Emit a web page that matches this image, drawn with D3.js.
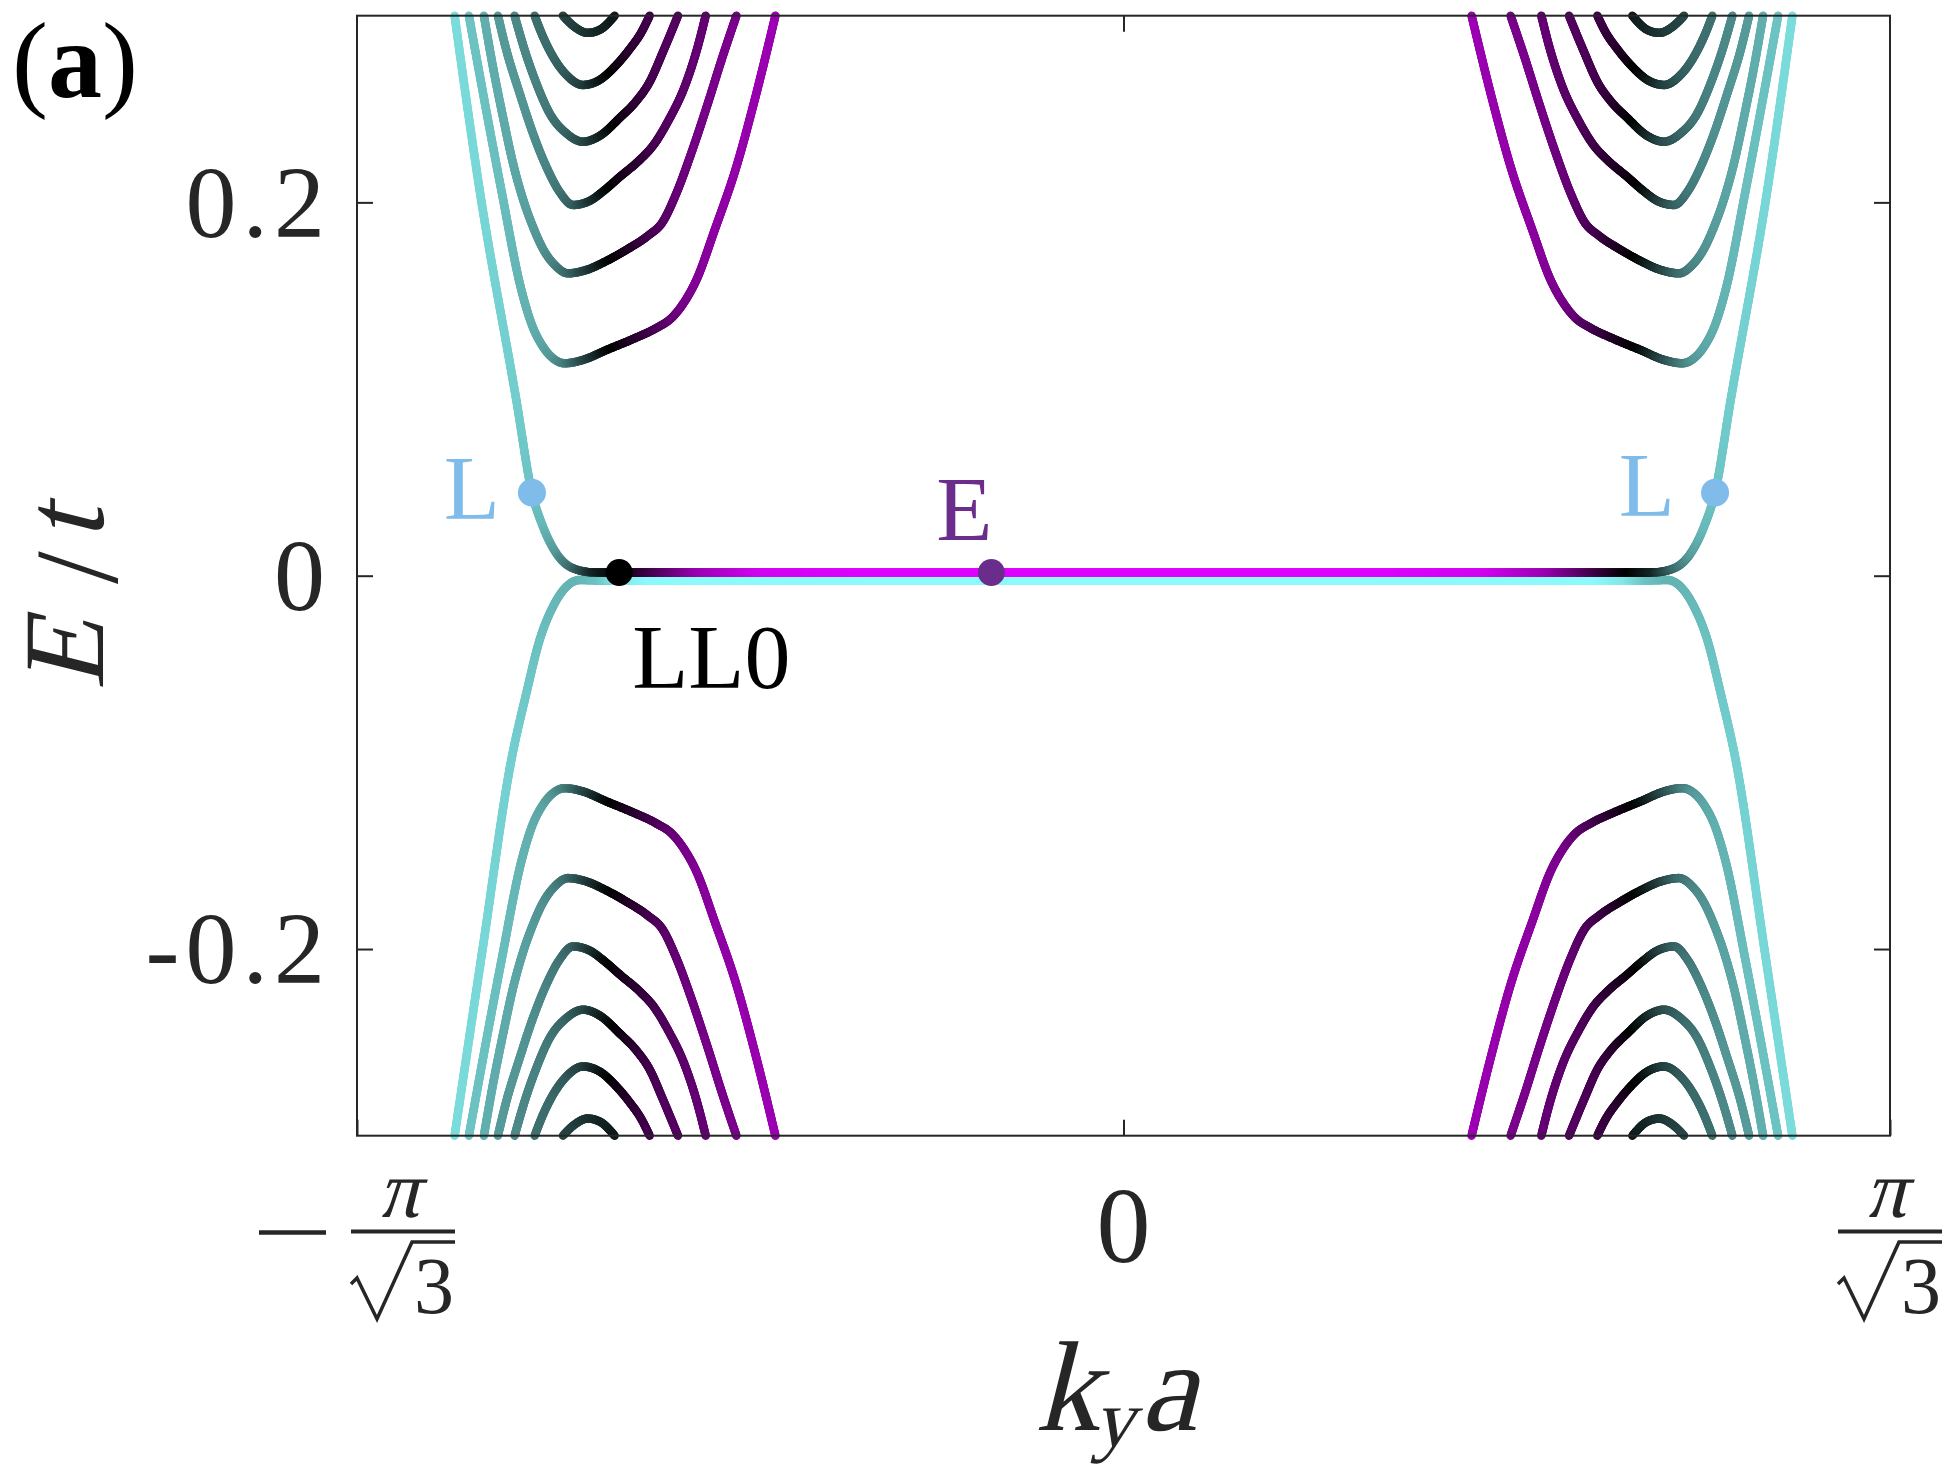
<!DOCTYPE html>
<html>
<head>
<meta charset="utf-8">
<script src="https://cdn.jsdelivr.net/npm/d3@7"></script>
<style>
  body { margin: 0; background: #fff; }
  svg { display: block; font-family: 'Liberation Serif', 'DejaVu Serif', serif; }
</style>
</head>
<body>
<svg id="chart" width="1946" height="1466"></svg>
<script>
// 刻度
var kEdge = Math.PI / Math.sqrt(3)
var xTicks = [-kEdge, 0, kEdge]
var xTickLabels = ['−π/√3', '0', 'π/√3']
var yTicks = [-0.2, 0, 0.2]
var yTickLabels = ['-0.2', '0', '0.2']

// 每个点: [k_y a, E/t, 颜色权重]  权重 -1 青 … 0 黑 … +1 品红
// 零能模 E>0 分支（左谷，右谷为镜像）
var zeroUpper = [
  [-1.5828, 0.3000, -0.88], [-1.5236, 0.2066, -0.86], [-1.4368, 0.0941, -0.82],
  [-1.3998, 0.0445, -0.78], [-1.3738, 0.0263, -0.74], [-1.3421, 0.0120, -0.62],
  [-1.3028, 0.0040, -0.42], [-1.2555, 0.0018, -0.15], [-1.1934, 0.0017, 0],
  [-1.1000, 0.0017, 0.35], [-1.0000, 0.0017, 0.7], [-0.8500, 0.0017, 0.95],
  [-0.6000, 0.0017, 1]
]
// 零能模 E<0 分支
var zeroLower = [
  [-1.5828, -0.3000, -0.88], [-1.5158, -0.1988, -0.86], [-1.4486, -0.0987, -0.83],
  [-1.4131, -0.0630, -0.8], [-1.3816, -0.0344, -0.77], [-1.3501, -0.0166, -0.74],
  [-1.3184, -0.0059, -0.72], [-1.2869, -0.0023, -0.72], [-1.2396, -0.0026, -0.78],
  [-1.1923, -0.0027, -0.92], [-1.1200, -0.0027, -1], [-0.6000, -0.0027, -1]
]

// 体能带 n=1..6，E>0，左谷
var band1 = [
  [-1.5490, 0.3000, -0.78], [-1.4723, 0.2066, -0.76], [-1.4249, 0.1531, -0.72],
  [-1.4013, 0.1352, -0.7], [-1.3738, 0.1227, -0.66], [-1.3501, 0.1165, -0.6],
  [-1.3224, 0.1138, -0.5], [-1.2791, 0.1156, -0.3], [-1.2237, 0.1209, -0.05],
  [-1.1608, 0.1268, 0.15], [-1.1054, 0.1327, 0.33], [-1.0692, 0.1381, 0.45],
  [-1.0408, 0.1461, 0.53], [-1.0107, 0.1584, 0.58], [-0.9674, 0.1852, 0.63],
  [-0.9160, 0.2191, 0.66], [-0.8727, 0.2549, 0.68], [-0.8237, 0.3000, 0.7]
]
var band2 = [
  [-1.5135, 0.3000, -0.7], [-1.4922, 0.2727, -0.69], [-1.4685, 0.2459, -0.68],
  [-1.4448, 0.2211, -0.67], [-1.4219, 0.2024, -0.65], [-1.3982, 0.1874, -0.62],
  [-1.3722, 0.1745, -0.58], [-1.3461, 0.1665, -0.52], [-1.3146, 0.1620, -0.42],
  [-1.2711, 0.1638, -0.25], [-1.2237, 0.1686, -0.05], [-1.1733, 0.1750, 0.12],
  [-1.1260, 0.1820, 0.28], [-1.0905, 0.1895, 0.38], [-1.0580, 0.2049, 0.45],
  [-1.0218, 0.2270, 0.5], [-0.9840, 0.2527, 0.53], [-0.9496, 0.2774, 0.55],
  [-0.9160, 0.3000, 0.55]
]
var band3 = [
  [-1.4803, 0.3000, -0.62], [-1.4604, 0.2816, -0.61], [-1.4290, 0.2585, -0.6],
  [-1.3975, 0.2370, -0.57], [-1.3658, 0.2191, -0.53], [-1.3343, 0.2056, -0.47],
  [-1.3028, 0.1986, -0.38], [-1.2633, 0.2008, -0.22], [-1.2278, 0.2066, -0.05],
  [-1.1923, 0.2136, 0.08], [-1.1449, 0.2227, 0.2], [-1.1118, 0.2308, 0.3],
  [-1.0786, 0.2431, 0.37], [-1.0361, 0.2634, 0.42], [-1.0076, 0.2833, 0.44],
  [-0.9887, 0.3000, 0.45]
]
var band4 = [
  [-1.4408, 0.3000, -0.55], [-1.4171, 0.2816, -0.54], [-1.3894, 0.2638, -0.52],
  [-1.3579, 0.2477, -0.48], [-1.3184, 0.2370, -0.4], [-1.2791, 0.2325, -0.3],
  [-1.2396, 0.2356, -0.15], [-1.1923, 0.2452, 0.05], [-1.1527, 0.2543, 0.2],
  [-1.1213, 0.2645, 0.3], [-1.0898, 0.2806, 0.35], [-1.0543, 0.3000, 0.38]
]
var band5 = [
  [-1.3934, 0.3000, -0.45], [-1.3738, 0.2888, -0.44], [-1.3501, 0.2781, -0.42],
  [-1.3184, 0.2683, -0.36], [-1.2791, 0.2629, -0.25], [-1.2396, 0.2656, -0.1],
  [-1.2001, 0.2736, 0.05], [-1.1686, 0.2821, 0.18], [-1.1409, 0.2911, 0.25],
  [-1.1213, 0.3000, 0.3]
]
var band6 = [
  [-1.3265, 0.3000, -0.28], [-1.2988, 0.2940, -0.25], [-1.2680, 0.2908, -0.2],
  [-1.2396, 0.2924, -0.15], [-1.2041, 0.3000, -0.1]
]
var bandsUpperLeft = [band1, band2, band3, band4, band5, band6]

// 标记点
var markerNames = ['L', 'LL0', 'E', 'L']
var markerK = [-1.3998, -1.1934, -0.3127, 1.3998]
var markerE = [0.0445, 0.0017, 0.0017, 0.0445]
var markerColors = ['#80bcea', '#000000', '#6b2d8c', '#80bcea']

var svg = d3.select('#chart')
var x = d3.scaleLinear().domain([-kEdge, kEdge]).range([357, 1890])
var y = d3.scaleLinear().domain([-0.3, 0.3]).range([1135.7, 15.7])
var axisColor = '#262626'
var slant = 'skewX(-14)'

var cyanEnd = d3.rgb(140, 250, 250)
var magentaEnd = d3.rgb(222, 0, 255)
function weightColor(w) {
  var c = w < 0 ? cyanEnd : magentaEnd
  var a = Math.min(1, Math.abs(w))
  return d3.rgb(c.r * a, c.g * a, c.b * a).formatHex()
}

var plot = svg.append('g')
var line = d3.line()
  .x(function (d) { return x(d[0]) })
  .y(function (d) { return y(d[1]) })
  .curve(d3.curveMonotoneX)

// 沿曲线分段着色
function drawShaded(pts) {
  var guide = plot.append('path').attr('d', line(pts)).attr('fill', 'none')
  var node = guide.node()
  var total = node.getTotalLength()
  var step = 1.5
  var samples = d3.range(0, total, step).map(function (s) { return node.getPointAtLength(s) })
  samples.push(node.getPointAtLength(total))
  guide.remove()

  // 控制点在采样序列中的位置
  var at = [0]
  for (var i = 1; i < pts.length; i++) {
    var px = x(pts[i][0]), py = y(pts[i][1])
    var chord = Math.hypot(px - x(pts[i - 1][0]), py - y(pts[i - 1][1]))
    var from = at[i - 1]
    var to = Math.min(samples.length - 1, from + Math.ceil(chord * 1.6 / step) + 4)
    var best = from, bd = Infinity
    for (var m = from; m <= to; m++) {
      var dd = (samples[m].x - px) ** 2 + (samples[m].y - py) ** 2
      if (dd < bd) { bd = dd; best = m }
    }
    at.push(best)
  }
  at[at.length - 1] = samples.length - 1

  var segs = []
  var seg = 0
  for (var m = 0; m < samples.length - 1; m++) {
    while (seg < at.length - 2 && m >= at[seg + 1]) seg++
    var span = Math.max(1, at[seg + 1] - at[seg])
    var t = Math.max(0, Math.min(1, (m + 0.5 - at[seg]) / span))
    var w = pts[seg][2] + (pts[seg + 1][2] - pts[seg][2]) * t
    segs.push({ a: samples[m], b: samples[m + 1], w: w })
  }

  plot.append('g')
    .selectAll('line')
    .data(segs)
    .join('line')
    .attr('x1', function (d) { return d.a.x })
    .attr('y1', function (d) { return d.a.y })
    .attr('x2', function (d) { return d.b.x })
    .attr('y2', function (d) { return d.b.y })
    .attr('stroke', function (d) { return weightColor(d.w) })
    .attr('stroke-width', 8.5)
    .attr('stroke-linecap', 'round')
}

// 对称：k -> -k（右谷，倒序以保持 k 递增），E -> -E
function mirrorK(pts) { return pts.map(function (p) { return [-p[0], p[1], p[2]] }).reverse() }
function mirrorE(pts) { return pts.map(function (p) { return [p[0], -p[1], p[2]] }) }
function fullZero(left) { return left.concat(mirrorK(left)) }

// 体能带：四个象限
bandsUpperLeft.forEach(function (b) {
  drawShaded(b)
  drawShaded(mirrorK(b))
  drawShaded(mirrorE(b))
  drawShaded(mirrorK(mirrorE(b)))
})
// 零能模
drawShaded(fullZero(zeroLower))
drawShaded(fullZero(zeroUpper))

// 坐标框
svg.append('rect')
  .attr('x', x.range()[0]).attr('y', y.range()[1])
  .attr('width', x.range()[1] - x.range()[0])
  .attr('height', y.range()[0] - y.range()[1])
  .attr('fill', 'none').attr('stroke', axisColor).attr('stroke-width', 2)

function styleAxis(g) {
  g.attr('color', axisColor)
  g.select('.domain').remove()
  g.selectAll('.tick line').attr('stroke-width', 2)
}

var yAxisL = svg.append('g').attr('transform', 'translate(' + x.range()[0] + ',0)')
  .call(d3.axisLeft(y).tickValues(yTicks).tickSize(-16).tickPadding(26)
    .tickFormat(function (d, i) { return yTickLabels[i] }))
styleAxis(yAxisL)
yAxisL.selectAll('.tick text')
  .attr('font-family', 'Liberation Serif, serif')
  .attr('font-size', 102)
  .attr('letter-spacing', 6)
  .attr('fill', axisColor)
  .attr('dy', '0.33em')

styleAxis(svg.append('g').attr('transform', 'translate(' + x.range()[1] + ',0)')
  .call(d3.axisRight(y).tickValues(yTicks).tickSize(-16).tickFormat('')))
styleAxis(svg.append('g').attr('transform', 'translate(0,' + y.range()[1] + ')')
  .call(d3.axisTop(x).tickValues([0]).tickSize(-16).tickFormat('')))
styleAxis(svg.append('g').attr('transform', 'translate(0,' + y.range()[0] + ')')
  .call(d3.axisBottom(x).tickValues(xTicks).tickSize(-16).tickFormat('')))

// 斜体文字（用倾斜变换代替斜体字形）
function slanted(parent, px, py, size, str, rot) {
  return parent.append('text')
    .attr('transform', 'translate(' + px + ',' + py + ')' + (rot ? ' rotate(' + rot + ')' : '') + ' ' + slant)
    .attr('font-size', size)
    .attr('fill', axisColor)
    .text(str)
}

// x 刻度标签（分数形式）
var xl = svg.append('g').attr('fill', axisColor)
function drawFraction(cx, negative) {
  var barY = 1231.5
  if (negative) {
    xl.append('line')
      .attr('x1', cx - 144).attr('x2', cx - 77).attr('y1', barY + 1).attr('y2', barY + 1)
      .attr('stroke', axisColor).attr('stroke-width', 4.5)
  }
  slanted(xl, cx - 4, 1217, 82, 'π').attr('text-anchor', 'middle')
  xl.append('line')
    .attr('x1', cx - 52).attr('x2', cx + 52).attr('y1', barY).attr('y2', barY)
    .attr('stroke', axisColor).attr('stroke-width', 4)
  xl.append('path')
    .attr('d', 'M' + (cx - 52) + ',1284 L' + (cx - 46) + ',1278 L' + (cx - 26) + ',1319 L' +
      (cx + 9) + ',1242 L' + (cx + 52) + ',1242')
    .attr('fill', 'none').attr('stroke', axisColor).attr('stroke-width', 3.5)
  xl.append('text')
    .attr('x', cx + 31).attr('y', 1313).attr('text-anchor', 'middle')
    .attr('font-size', 80).text('3')
}
xTicks.forEach(function (v, i) {
  var lab = xTickLabels[i]
  if (lab === '0') {
    xl.append('text').attr('x', x(v)).attr('y', 1262).attr('text-anchor', 'middle')
      .attr('font-size', 108).text(lab)
  } else if (lab.charAt(0) === '−') {
    drawFraction(x(v) + 46, true)
  } else {
    drawFraction(x(v), false)
  }
})

// 轴标题
var titles = svg.append('g')
slanted(titles, 1035, 1430, 128, 'k')
slanted(titles, 1093, 1446, 82, 'y')
slanted(titles, 1140, 1430, 128, 'a')

slanted(titles, 103, 690, 115, 'E', -90)
titles.append('text')
  .attr('transform', 'translate(117,584) rotate(-90)')
  .attr('font-size', 118).attr('fill', axisColor).text('/')
slanted(titles, 103, 540, 115, 't', -90)

// 面板标记
var panel = svg.append('text').attr('x', 12).attr('y', 97).attr('font-size', 108).attr('fill', '#000')
panel.append('tspan').text('(')
panel.append('tspan').attr('font-weight', 'bold').text('a')
panel.append('tspan').text(')')

// 标记点与文字
svg.append('g').selectAll('circle')
  .data(markerK)
  .join('circle')
  .attr('cx', function (d) { return x(d) })
  .attr('cy', function (d, i) { return y(markerE[i]) })
  .attr('r', function (d, i) { return markerNames[i] === 'L' ? 14 : 13.5 })
  .attr('fill', function (d, i) { return markerColors[i] })

var labelPos = [
  { dx: -32, y: 519, anchor: 'end' },
  { dx: 13, y: 688, anchor: 'start' },
  { dx: 1, y: 540, anchor: 'end' },
  { dx: -40, y: 516, anchor: 'end' }
]
svg.append('g').selectAll('text')
  .data(markerNames)
  .join('text')
  .attr('x', function (d, i) { return x(markerK[i]) + labelPos[i].dx })
  .attr('y', function (d, i) { return labelPos[i].y })
  .attr('text-anchor', function (d, i) { return labelPos[i].anchor })
  .attr('font-size', 92)
  .attr('fill', function (d, i) { return markerColors[i] })
  .text(function (d) { return d })
</script>
</body>
</html>
